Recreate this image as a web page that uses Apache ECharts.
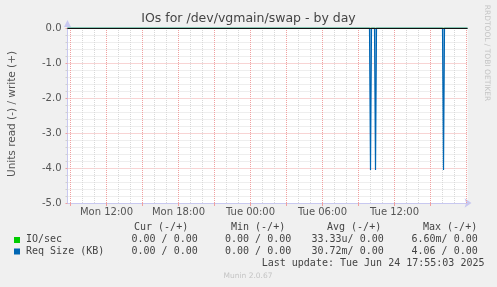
<!DOCTYPE html>
<html><head><meta charset="utf-8">
<script src="https://cdn.jsdelivr.net/npm/echarts@6/dist/echarts.min.js"></script>
<style>html,body{margin:0;padding:0;background:#f0f0f0;}#c{width:497px;height:287px;}</style>
</head><body><div id="c"></div>
<script>
// ---- data (x in hours since Mon 00:00) ----
const chartTitle = 'IOs for /dev/vgmain/swap - by day';
const yAxisName = 'Units read (-) / write (+)';
const xMin = 8.75, xMax = 42.0833;
const xLabelHours = [12, 18, 24, 30, 36];
const xLabelTexts = ['Mon 12:00', 'Mon 18:00', 'Tue 00:00', 'Tue 06:00', 'Tue 12:00'];
const majorGridHours = [9, 12, 15, 18, 21, 24, 27, 30, 33, 36, 39, 42];
const minorGridHours = [10, 11, 13, 14, 16, 17, 19, 20, 22, 23, 25, 26, 28, 29, 31, 32, 34, 35, 37, 38, 40, 41];
const yTicks = [0, -1, -2, -3, -4, -5];

const ioTimes = [8.75, 42.0833];
const ioRead = [0, 0];
const reqTimes = [8.75, 33.9167, 34.0, 34.0833, 34.3333, 34.4167, 34.5, 40.0, 40.0833, 40.1667, 42.0833];
const reqRead = [0, 0, -4.06, 0, 0, -4.06, 0, 0, -4.06, 0, 0];

const legendNames = ['IO/sec', 'Req Size (KB)'];
const legendColors = ['#00cc00', '#0066b3'];
const headers = ['Cur (-/+)', 'Min (-/+)', 'Avg (-/+)', 'Max (-/+)'];
const curVals = ['0.00 / 0.00', '0.00 / 0.00'];
const minVals = ['0.00 / 0.00', '0.00 / 0.00'];
const avgVals = ['33.33u/ 0.00', '30.72m/ 0.00'];
const maxVals = ['6.60m/ 0.00', '4.06 / 0.00'];
const lastUpdate = 'Last update: Tue Jun 24 17:55:03 2025';
const footer = 'Munin 2.0.67';
const sideText = 'RRDTOOL / TOBI OETIKER';

// ---- chart ----
const chart = echarts.init(document.getElementById('c'), null, {renderer: 'canvas'});
const mono = 'DejaVu Sans Mono';
const sans = 'DejaVu Sans';
const txtColor = '#444';

const graphics = [];
graphics.push({type: 'text', x: 248.5, y: 19, style: {text: chartTitle, font: '12.5px ' + sans, fill: '#444', align: 'center', verticalAlign: 'middle'}});
graphics.push({type: 'text', x: 12, y: 114, rotation: Math.PI / 2, style: {text: yAxisName, font: '10.5px ' + sans, fill: '#555', align: 'center', verticalAlign: 'middle'}});
graphics.push({type: 'text', x: 487, y: 53, rotation: -Math.PI / 2, style: {text: sideText, font: '7.5px ' + sans, fill: '#c4c4c4', align: 'center', verticalAlign: 'middle'}});
graphics.push({type: 'text', x: 248, y: 276, style: {text: footer, font: '7.5px ' + sans, fill: '#c4c4c4', align: 'center', verticalAlign: 'middle'}});
// y-axis arrow head (axis decoration)
graphics.push({type: 'polygon', shape: {points: [[67.5, 20], [64, 27], [71, 27]]}, style: {fill: '#c8c8f0'}});

const headerX = [134, 231, 327, 423];
headers.forEach((h, i) => graphics.push({type: 'text', x: headerX[i], y: 227.5, style: {text: h, font: '10px ' + mono, fill: txtColor, verticalAlign: 'middle'}}));
const colX = [131.5, 225, 311.5, 411.5];
const rowY = [239.5, 251];
legendNames.forEach((n, r) => {
  graphics.push({type: 'rect', shape: {x: 14, y: rowY[r] - 2.5, width: 6, height: 6}, style: {fill: legendColors[r]}});
  graphics.push({type: 'text', x: 26, y: rowY[r], style: {text: n, font: '10px ' + mono, fill: txtColor, verticalAlign: 'middle'}});
  [curVals, minVals, avgVals, maxVals].forEach((arr, c) => {
    graphics.push({type: 'text', x: colX[c], y: rowY[r], style: {text: arr[r], font: '10px ' + mono, fill: txtColor, verticalAlign: 'middle'}});
  });
});
graphics.push({type: 'text', x: 261.7, y: 263.5, style: {text: lastUpdate, font: '10px ' + mono, fill: txtColor, verticalAlign: 'middle'}});

const gridLines = minorGridHours.map(h => ({xAxis: h, lineStyle: {color: '#d8d8d8', type: [1, 1], width: 1}}))
  .concat(majorGridHours.map(h => ({xAxis: h, lineStyle: {color: '#f0a0a0', type: [1, 1], width: 1}})));

chart.setOption({
  animation: false,
  backgroundColor: '#f0f0f0',
  grid: {left: 67.5, top: 28, width: 400, height: 175, show: true, backgroundColor: '#ffffff', borderWidth: 0},
  xAxis: {
    type: 'value', min: xMin, max: xMax,
    axisLine: {onZero: false, lineStyle: {color: '#c8c8f0'}, symbol: ['none', 'arrow'], symbolSize: [7, 7], symbolOffset: [0, 4]},
    axisTick: {show: true, customValues: majorGridHours, length: 3, lineStyle: {color: '#f0a0a0'}},
    axisLabel: {customValues: xLabelHours, formatter: v => {const i = xLabelHours.indexOf(v); return i >= 0 ? xLabelTexts[i] : '';}, color: '#555', fontSize: 10, fontFamily: sans, margin: 4},
    splitLine: {show: false}
  },
  yAxis: {
    type: 'value', min: -5, max: 0, interval: 1,
    axisLine: {show: true, lineStyle: {color: '#c8c8f0'}},
    axisTick: {show: true, length: 2, lineStyle: {color: '#f0a0a0'}},
    minorTick: {show: true, splitNumber: 5, length: 2, lineStyle: {color: '#d0d0d0'}},
    axisLabel: {formatter: v => yTicks.indexOf(v) >= 0 ? v.toFixed(1) : '', color: '#555', fontSize: 10, fontFamily: sans, margin: 6},
    splitLine: {show: true, lineStyle: {color: '#f0a8a8', type: [1, 1]}},
    minorSplitLine: {show: true, lineStyle: {color: '#dcdcdc', type: [1, 1]}}
  },
  graphic: graphics,
  series: [
    {
      name: legendNames[0], type: 'line', z: 1, showSymbol: false, silent: true,
      data: ioTimes.map((t, i) => [t, ioRead[i]]),
      lineStyle: {color: legendColors[0], width: 1},
      markLine: {z: 1, silent: true, symbol: ['none', 'none'], label: {show: false}, data: gridLines, animation: false}
    },
    {
      name: legendNames[1], type: 'line', z: 3, showSymbol: false, silent: true,
      data: reqTimes.map((t, i) => [t, reqRead[i]]),
      lineStyle: {color: legendColors[1], width: 1.2},
      areaStyle: {color: '#7fb0dc', opacity: 0.9},
      markLine: {z: 5, silent: true, symbol: ['none', 'none'], label: {show: false}, animation: false,
        data: [{yAxis: 0, lineStyle: {color: '#111', type: 'solid', width: 1}}]}
    }
  ]
});
</script></body></html>
